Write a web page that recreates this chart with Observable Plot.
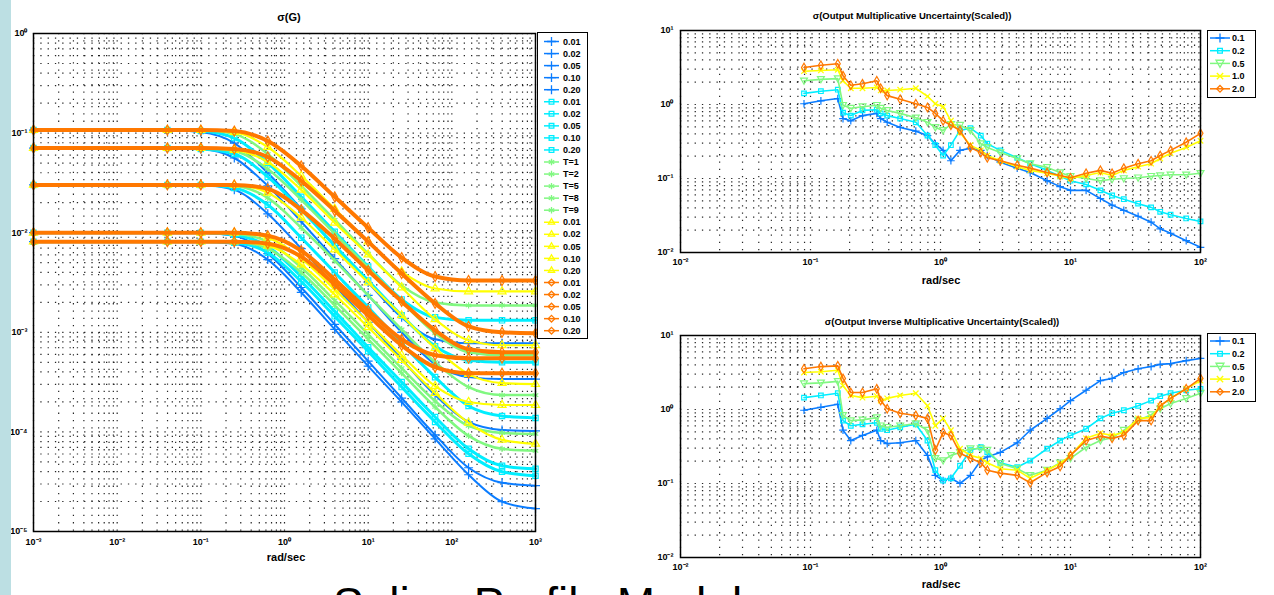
<!DOCTYPE html>
<html><head><meta charset="utf-8">
<script src="https://cdn.jsdelivr.net/npm/d3@7"></script>
<script src="https://cdn.jsdelivr.net/npm/@observablehq/plot@0.6"></script>
<style>
html,body{margin:0;padding:0;}
body{width:1274px;height:595px;overflow:hidden;background:#fff;position:relative;font-family:"Liberation Sans",Arial,sans-serif;color:#000;}
.abs{position:absolute;}
.ttl{position:absolute;font-weight:bold;font-size:10px;white-space:nowrap;transform:translateX(-50%);}
.leg{position:absolute;border:1.5px solid #000;background:#fff;box-sizing:border-box;}
</style></head><body>
<div id="p1" class="abs" style="left:0;top:0"></div>
<div id="p2" class="abs" style="left:640px;top:0"></div>
<div id="p3" class="abs" style="left:640px;top:305px"></div>
<div class="ttl" style="left:289px;top:11px;font-size:11px">σ(G)</div>
<div class="ttl" style="left:286px;top:551px;font-size:11px">rad/sec</div>
<div class="ttl" style="left:912px;top:10px;font-size:9.5px">σ(Output Multiplicative Uncertainty(Scaled))</div>
<div class="ttl" style="left:941px;top:274px;font-size:11px">rad/sec</div>
<div class="ttl" style="left:942px;top:316px;font-size:9.5px">σ(Output Inverse Multiplicative Uncertainty(Scaled))</div>
<div class="ttl" style="left:941px;top:578px;font-size:11px">rad/sec</div>
<div id="leg1" class="leg" style="left:537px;top:32px;width:51px;height:307px"></div>
<div id="leg2" class="leg" style="left:1207px;top:30px;width:49px;height:68px"></div>
<div id="leg3" class="leg" style="left:1207px;top:333px;width:49px;height:69px"></div>
<div class="abs" style="left:333px;top:581px;font-size:46px;line-height:46px;white-space:nowrap;">Spline Profile Models</div>
<div class="abs" style="left:0;top:0;width:11px;height:595px;background:#bcdfe3"></div>
<script>
// ---------- shared ----------
const seriesColors = ["#0a7cff", "#00eeff", "#80f880", "#ffff00", "#ff7800"];

// ---------- left plot: sigma curves (log10 of value) ----------
const sigmaFreqLog10 = [-3, -1.4, -1.0, -0.6, -0.2, 0.2, 0.6, 1.0, 1.4, 1.8, 2.2, 2.6, 3.0];
const sigmaBlueLog10 = [
 [-0.97,-0.97,-0.99,-1.10,-1.40,-1.76,-2.13,-2.50,-2.85,-3.07,-3.11,-3.11,-3.11],
 [-1.15,-1.15,-1.16,-1.25,-1.53,-1.89,-2.26,-2.63,-3.00,-3.32,-3.45,-3.47,-3.47],
 [-1.52,-1.52,-1.52,-1.57,-1.81,-2.16,-2.53,-2.90,-3.27,-3.63,-3.90,-3.98,-3.99],
 [-2.00,-2.00,-2.00,-2.03,-2.21,-2.55,-2.92,-3.29,-3.66,-4.03,-4.36,-4.51,-4.54],
 [-2.09,-2.09,-2.09,-2.11,-2.27,-2.60,-2.97,-3.34,-3.70,-4.07,-4.43,-4.70,-4.77]];
const sigmaCyanLog10 = [
 [-0.97,-0.97,-0.98,-1.05,-1.30,-1.64,-1.99,-2.34,-2.67,-2.85,-2.88,-2.88,-2.88],
 [-1.15,-1.15,-1.16,-1.21,-1.44,-1.77,-2.13,-2.48,-2.83,-3.14,-3.28,-3.30,-3.30],
 [-1.52,-1.52,-1.52,-1.55,-1.72,-2.05,-2.40,-2.75,-3.11,-3.45,-3.74,-3.84,-3.86],
 [-2.00,-2.00,-2.00,-2.02,-2.14,-2.44,-2.79,-3.15,-3.50,-3.85,-4.17,-4.34,-4.37],
 [-2.09,-2.09,-2.09,-2.10,-2.20,-2.49,-2.84,-3.19,-3.55,-3.90,-4.22,-4.40,-4.44]];
const sigmaGreenLog10 = [
 [-0.97,-0.97,-0.97,-1.01,-1.21,-1.53,-1.87,-2.21,-2.53,-2.70,-2.73,-2.73,-2.73],
 [-1.15,-1.15,-1.15,-1.18,-1.36,-1.67,-2.01,-2.35,-2.69,-3.01,-3.20,-3.23,-3.23],
 [-1.52,-1.52,-1.52,-1.53,-1.65,-1.95,-2.28,-2.63,-2.97,-3.30,-3.55,-3.63,-3.63],
 [-2.00,-2.00,-2.00,-2.01,-2.09,-2.35,-2.68,-3.02,-3.36,-3.69,-3.94,-4.01,-4.02],
 [-2.09,-2.09,-2.09,-2.09,-2.16,-2.40,-2.73,-3.07,-3.41,-3.75,-4.04,-4.17,-4.19]];
const sigmaYellowLog10 = [
 [-0.97,-0.97,-0.97,-0.99,-1.14,-1.43,-1.76,-2.09,-2.39,-2.56,-2.59,-2.59,-2.59],
 [-1.15,-1.15,-1.15,-1.17,-1.29,-1.57,-1.90,-2.22,-2.55,-2.87,-3.08,-3.13,-3.13],
 [-1.52,-1.52,-1.52,-1.52,-1.60,-1.85,-2.17,-2.50,-2.83,-3.16,-3.42,-3.51,-3.52],
 [-2.00,-2.00,-2.00,-2.00,-2.05,-2.26,-2.57,-2.90,-3.23,-3.54,-3.70,-3.73,-3.73],
 [-2.09,-2.09,-2.09,-2.09,-2.13,-2.32,-2.62,-2.95,-3.28,-3.61,-3.91,-4.08,-4.12]];
const sigmaOrangeLog10 = [
 [-0.97,-0.97,-0.97,-0.98,-1.08,-1.33,-1.64,-1.95,-2.25,-2.44,-2.48,-2.48,-2.48],
 [-1.15,-1.15,-1.15,-1.16,-1.24,-1.48,-1.78,-2.09,-2.41,-2.71,-2.94,-3.00,-3.01],
 [-1.52,-1.52,-1.52,-1.52,-1.56,-1.77,-2.06,-2.38,-2.69,-2.98,-3.17,-3.20,-3.20],
 [-2.00,-2.00,-2.00,-2.00,-2.03,-2.18,-2.47,-2.78,-3.07,-3.23,-3.26,-3.26,-3.26],
 [-2.09,-2.09,-2.09,-2.09,-2.11,-2.24,-2.52,-2.83,-3.13,-3.35,-3.41,-3.41,-3.41]];
const sigmaLegendLabels = ["0.01","0.02","0.05","0.10","0.20","0.01","0.02","0.05","0.10","0.20",
  "T=1","T=2","T=5","T=8","T=9","0.01","0.02","0.05","0.10","0.20","0.01","0.02","0.05","0.10","0.20"];
const sigmaXTicks = [1e-3, 1e-2, 1e-1, 1, 1e1, 1e2, 1e3];
const sigmaYTicks = [1e-5, 1e-4, 1e-3, 1e-2, 1e-1, 1];

// ---------- right plots ----------
const rightFreqLog10 = [-1.05,-0.92,-0.79,-0.75,-0.69,-0.6,-0.49,-0.46,-0.41,-0.31,-0.19,-0.1,-0.04,0.02,0.08,0.15,0.23,0.31,0.36,0.46,0.59,0.69,0.82,0.92,1.0,1.12,1.23,1.32,1.41,1.52,1.62,1.69,1.77,1.89,2.0];
const outMulBlueLog10   = [0.01,0.05,0.08,-0.19,-0.22,-0.15,-0.12,-0.19,-0.24,-0.31,-0.36,-0.42,-0.53,-0.62,-0.76,-0.62,-0.59,-0.62,-0.69,-0.78,-0.86,-0.92,-1.03,-1.11,-1.16,-1.16,-1.27,-1.36,-1.43,-1.51,-1.59,-1.68,-1.74,-1.84,-1.93];
const outMulCyanLog10   = [0.15,0.18,0.20,-0.11,-0.15,-0.08,-0.07,-0.12,-0.15,-0.19,-0.24,-0.42,-0.55,-0.69,-0.55,-0.35,-0.32,-0.42,-0.53,-0.62,-0.72,-0.80,-0.89,-0.97,-1.03,-1.08,-1.16,-1.23,-1.28,-1.34,-1.39,-1.45,-1.49,-1.54,-1.58];
const outMulGreenLog10  = [0.32,0.34,0.35,-0.01,-0.05,-0.03,-0.01,-0.05,-0.08,-0.12,-0.18,-0.24,-0.31,-0.35,-0.27,-0.28,-0.35,-0.53,-0.58,-0.65,-0.73,-0.80,-0.85,-0.92,-0.97,-1.00,-1.03,-1.01,-1.00,-0.99,-0.97,-0.96,-0.95,-0.95,-0.93];
const outMulYellowLog10 = [0.45,0.46,0.47,0.32,0.22,0.22,0.23,0.19,0.19,0.20,0.22,0.11,0.01,-0.03,-0.22,-0.38,-0.55,-0.62,-0.69,-0.76,-0.84,-0.89,-0.93,-0.97,-1.00,-0.96,-0.92,-0.96,-0.89,-0.84,-0.80,-0.73,-0.66,-0.58,-0.49];
const outMulOrangeLog10 = [0.50,0.53,0.55,0.39,0.26,0.28,0.32,0.22,0.12,0.07,0.01,-0.04,-0.12,-0.22,-0.28,-0.35,-0.58,-0.65,-0.72,-0.76,-0.82,-0.86,-0.92,-0.96,-0.99,-0.93,-0.89,-0.93,-0.86,-0.80,-0.76,-0.69,-0.62,-0.51,-0.39];
const invMulBlueLog10   = [-0.01,0.03,0.07,-0.28,-0.42,-0.35,-0.28,-0.42,-0.46,-0.45,-0.42,-0.62,-0.89,-0.96,-0.93,-1.00,-0.89,-0.69,-0.64,-0.58,-0.45,-0.28,-0.12,0.01,0.12,0.26,0.39,0.42,0.50,0.55,0.58,0.61,0.62,0.66,0.69];
const invMulCyanLog10   = [0.16,0.19,0.22,-0.15,-0.22,-0.20,-0.18,-0.26,-0.28,-0.24,-0.20,-0.42,-0.82,-0.96,-0.93,-0.76,-0.55,-0.51,-0.58,-0.72,-0.78,-0.69,-0.53,-0.42,-0.35,-0.26,-0.12,-0.05,-0.01,0.05,0.12,0.18,0.22,0.26,0.28];
const invMulGreenLog10  = [0.35,0.36,0.38,-0.08,-0.15,-0.14,-0.11,-0.22,-0.24,-0.22,-0.19,-0.28,-0.66,-0.69,-0.62,-0.58,-0.53,-0.53,-0.55,-0.73,-0.80,-0.89,-0.82,-0.72,-0.66,-0.51,-0.42,-0.38,-0.28,-0.15,-0.07,0.01,0.08,0.15,0.22];
const invMulYellowLog10 = [0.50,0.51,0.53,0.32,0.19,0.16,0.18,0.12,0.15,0.19,0.22,0.05,-0.22,-0.12,-0.28,-0.53,-0.62,-0.66,-0.72,-0.80,-0.82,-0.93,-0.82,-0.73,-0.62,-0.39,-0.32,-0.35,-0.31,-0.12,-0.11,0.05,0.15,0.28,0.39];
const invMulOrangeLog10 = [0.55,0.58,0.59,0.42,0.23,0.23,0.28,0.12,0.01,-0.05,-0.08,-0.12,-0.55,-0.31,-0.35,-0.59,-0.66,-0.72,-0.82,-0.86,-0.89,-0.99,-0.85,-0.77,-0.62,-0.42,-0.36,-0.39,-0.35,-0.15,-0.15,0.05,0.15,0.28,0.42];
const rightLegendLabels = ["0.1","0.2","0.5","1.0","2.0"];
const rightXTicks = [1e-2, 1e-1, 1, 1e1, 1e2];
const rightYTicks = [1e-2, 1e-1, 1, 1e1];

// ---------- helpers ----------
const supMap = {"-":"⁻","0":"⁰","1":"¹","2":"²","3":"³","4":"⁴","5":"⁵","6":"⁶","7":"⁷","8":"⁸","9":"⁹"};
const fmtPow = d => "10" + String(Math.round(Math.log10(d))).split("").map(c => supMap[c]).join("");
function minorTicks(lo, hi) { const a = []; for (let k = lo; k < hi; k++) for (let m = 1; m < 10; m++) a.push(m * 10 ** k); a.push(10 ** hi); return a; }
const triDown = {draw(ctx, size) { const s = Math.sqrt(size) * 0.75; ctx.moveTo(0, s); ctx.lineTo(-s, -s * 0.8); ctx.lineTo(s, -s * 0.8); ctx.closePath(); }};
const gridStyle = {stroke: "#000", strokeDasharray: "1.3,6", strokeWidth: 1.2, strokeOpacity: 0.85};
const textStyle = {fontFamily: "Liberation Sans, Arial, sans-serif", fontSize: "9px", fontWeight: "bold", background: "none", color: "#000", overflow: "visible"};
const axisOpts = {tickFormat: fmtPow, tickSize: 0, fontSize: 9, fontWeight: "bold", label: null};

// ---------- left plot ----------
const sigmaSets = [sigmaBlueLog10, sigmaCyanLog10, sigmaGreenLog10, sigmaYellowLog10, sigmaOrangeLog10];
const sigmaSymbols = ["plus", "square", "asterisk", "triangle", "diamond"];
const sigmaWidths = [2, 3, 2.5, 2.2, 4];
const sigmaMarks = [];
sigmaSets.forEach((groups, ci) => {
  const rows = [];
  groups.forEach((vals, gi) => vals.forEach((e, k) => rows.push({f: 10 ** sigmaFreqLog10[k], v: 10 ** e, id: gi})));
  sigmaMarks.push(Plot.line(rows, {x: "f", y: "v", z: "id", stroke: seriesColors[ci], strokeWidth: sigmaWidths[ci], curve: "monotone-x"}));
  sigmaMarks.push(Plot.dot(rows, {x: "f", y: "v", symbol: sigmaSymbols[ci], stroke: seriesColors[ci], fill: "none", r: 3, strokeWidth: 1.2}));
});
const p1 = Plot.plot({
  width: 600, height: 570, marginLeft: 33, marginRight: 65, marginTop: 33, marginBottom: 39,
  style: textStyle,
  x: {type: "log", domain: [1e-3, 1e3], label: null},
  y: {type: "log", domain: [1e-5, 1], label: null},
  marks: [
    Plot.ruleX(minorTicks(-3, 3), gridStyle),
    Plot.ruleY(minorTicks(-5, 0), gridStyle),
    ...sigmaMarks,
    Plot.frame({stroke: "#000", strokeWidth: 1.5}),
    Plot.axisX(sigmaXTicks, {...axisOpts, tickPadding: 7}),
    Plot.axisY(sigmaYTicks, {...axisOpts, tickPadding: 6})
  ]
});
document.getElementById("p1").appendChild(p1);

// ---------- right plots ----------
const rightSymbols = ["plus", "square", triDown, "times", "diamond"];
function rightPlot(sets) {
  const marks = [];
  sets.forEach((vals, ci) => {
    const rows = vals.map((e, k) => ({f: 10 ** rightFreqLog10[k], v: 10 ** e}));
    marks.push(Plot.line(rows, {x: "f", y: "v", stroke: seriesColors[ci], strokeWidth: 1.6}));
    marks.push(Plot.dot(rows, {x: "f", y: "v", symbol: rightSymbols[ci], stroke: seriesColors[ci], fill: "none", r: 2.6, strokeWidth: 1.2}));
  });
  return Plot.plot({
    width: 570, height: 270, marginLeft: 40, marginRight: 10, marginTop: 30, marginBottom: 18,
    style: textStyle,
    x: {type: "log", domain: [1e-2, 1e2], label: null},
    y: {type: "log", domain: [1e-2, 1e1], label: null},
    marks: [
      Plot.ruleX(minorTicks(-2, 2), gridStyle),
      Plot.ruleY(minorTicks(-2, 1), gridStyle),
      ...marks,
      Plot.frame({stroke: "#000", strokeWidth: 1.5}),
      Plot.axisX(rightXTicks, {...axisOpts, tickPadding: 6}),
      Plot.axisY(rightYTicks, {...axisOpts, tickPadding: 7})
    ]
  });
}
document.getElementById("p2").appendChild(rightPlot([outMulBlueLog10, outMulCyanLog10, outMulGreenLog10, outMulYellowLog10, outMulOrangeLog10]));
document.getElementById("p3").appendChild(rightPlot([invMulBlueLog10, invMulCyanLog10, invMulGreenLog10, invMulYellowLog10, invMulOrangeLog10]));

// ---------- legends ----------
const d3Sym = {plus: d3.symbolPlus, square: d3.symbolSquare2, asterisk: d3.symbolAsterisk, triangle: d3.symbolTriangle2, diamond: d3.symbolDiamond2, times: d3.symbolTimes};
function drawLegend(id, labels, colorIdx, symbols, opts) {
  const box = document.getElementById(id);
  const svg = d3.select(box).append("svg").attr("width", opts.w).attr("height", opts.h).style("display", "block");
  labels.forEach((lab, i) => {
    const y = opts.y0 + i * opts.dy, c = seriesColors[colorIdx(i)], s = symbols[colorIdx(i)];
    svg.append("line").attr("x1", opts.l0).attr("x2", opts.l1).attr("y1", y).attr("y2", y).attr("stroke", c).attr("stroke-width", 1.5);
    const type = typeof s === "string" ? d3Sym[s] : s;
    svg.append("path").attr("d", d3.symbol(type, 28)()).attr("transform", `translate(${(opts.l0 + opts.l1) / 2},${y})`).attr("fill", "none").attr("stroke", c).attr("stroke-width", 1.3);
    svg.append("text").attr("x", opts.tx).attr("y", y).attr("dy", "0.35em").attr("font-size", 9).attr("font-weight", "bold").attr("font-family", "Liberation Sans, Arial").text(lab);
  });
}
drawLegend("leg1", sigmaLegendLabels, i => Math.floor(i / 5), sigmaSymbols, {w: 48, h: 304, y0: 8.5, dy: 12.05, l0: 6, l1: 21, tx: 25});
drawLegend("leg2", rightLegendLabels, i => i, rightSymbols, {w: 46, h: 65, y0: 7, dy: 12.7, l0: 2, l1: 22, tx: 24});
drawLegend("leg3", rightLegendLabels, i => i, rightSymbols, {w: 46, h: 66, y0: 7, dy: 12.7, l0: 2, l1: 22, tx: 24});
</script>
</body></html>
